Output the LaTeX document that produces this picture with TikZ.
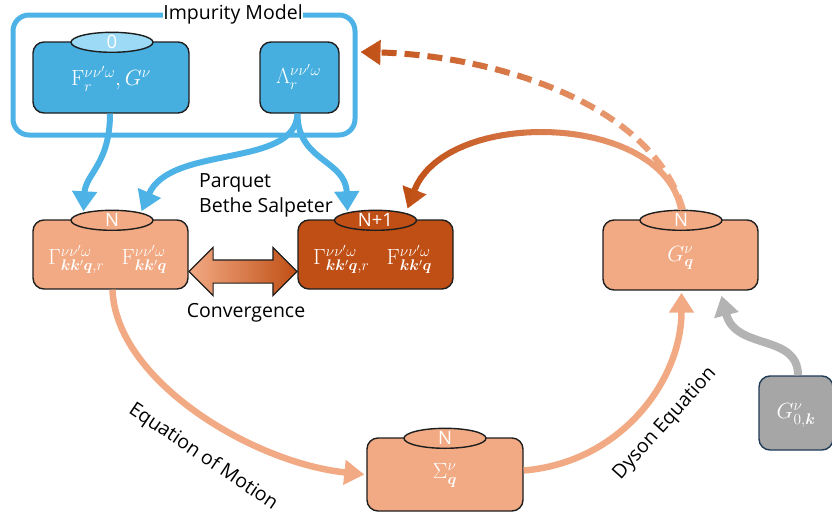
\RequirePackage{fix-cm}
\documentclass[tikz,border=0pt]{standalone}
\usepackage{amsmath}
\usepackage{bm}
\usepackage{fontspec}
\setsansfont{Open Sans}
\usetikzlibrary{arrows.meta,shapes.geometric,shapes.arrows,calc}

\definecolor{cBoxBlue}{HTML}{47AFE0}
\definecolor{cFrameBlue}{HTML}{4DB3E6}
\definecolor{cTagBlue}{HTML}{9CDAF5}
\definecolor{cSalmon}{HTML}{F2AA84}
\definecolor{cRust}{HTML}{C04F15}
\definecolor{cGreyBox}{HTML}{A6A6A6}
\definecolor{cGreyArrow}{HTML}{B3B3B3}
\definecolor{cEdge}{HTML}{1E1E1E}
\definecolor{cNavy}{HTML}{1F3A56}

\newcommand\mathsize{\fontsize{22}{26}\selectfont}
\newcommand\labelsize{\sffamily\fontsize{19.5}{24}\selectfont}

\begin{document}
\begin{tikzpicture}[x=1pt,y=-1pt,
  box/.style={draw=cEdge, line width=1.4pt, rounded corners=11pt, inner sep=0pt,
              text=white, font=\mathsize},
  tag/.style={ellipse, draw=cEdge, line width=1.4pt, minimum width=82pt,
              minimum height=20pt, inner sep=0pt, text=white,
              font=\sffamily\fontsize{18.5}{18.5}\selectfont},
  mathtext/.style={text=white, font=\mathsize, inner sep=0pt},
  caption/.style={text=black, font=\labelsize, inner sep=0pt},
  tip/.style={-{Triangle[length=20pt,width=24pt]}},
  bflow/.style={tip, draw=cFrameBlue, line width=6pt},
  sflow/.style={tip, draw=cSalmon, line width=6.5pt},
]
\useasboundingbox (0,0) rectangle (832,514);

% ---------- impurity model frame ----------
\node[draw=cFrameBlue, line width=5pt, rounded corners=16pt, minimum width=342pt,
      minimum height=120pt, inner sep=0pt] (imp) at (184,75) {};
\node[fill=white, inner xsep=7pt, inner ysep=2pt, caption] (imptitle) at (233,14) {Impurity Model};

% ---------- node boxes ----------
\node[box, fill=cBoxBlue, minimum width=156pt, minimum height=71pt] (fg) at (111,77.5) {};
\node[box, fill=cBoxBlue, minimum width=79pt, minimum height=71pt] (lam) at (299.5,77.5) {};
\node[box, fill=cSalmon, minimum width=155pt, minimum height=69pt] (gv) at (110.5,254.5) {};
\node[box, fill=cRust, minimum width=155pt, minimum height=69pt] (n1) at (375.5,254.5) {};
\node[box, fill=cSalmon, minimum width=155pt, minimum height=70pt] (gq) at (680.5,255) {};
\node[box, fill=cSalmon, minimum width=156pt, minimum height=73pt] (sq) at (445,474.5) {};
\node[box, draw=cNavy, fill=cGreyBox, minimum width=74pt, minimum height=74pt] (g0) at (796,413) {};

% ---------- blue arrows out of the impurity model ----------
\draw[bflow] ($(fg.south)+(-1,0)$) .. controls ($(fg.south)+(-1,50)$) and ($(gv.north)+(-25,-45)$)
  .. ($(gv.north)+(-27,-8)$);
\draw[bflow] ($(lam.south)+(-2,0)$) .. controls ($(lam.south)+(-4,55)$) and ($(gv.north)+(60,-75)$)
  .. ($(gv.north)+(31,-8)$);
\draw[bflow] ($(lam.south)+(-2,0)$) .. controls ($(lam.south)+(-2,48)$) and ($(n1.north)+(-30,-60)$)
  .. ($(n1.north)+(-28,-8)$);

% ---------- tags on top of the boxes ----------
\node[tag, fill=cTagBlue] (e0) at ($(fg.north)+(1,1)$) {0};
\node[tag, fill=cSalmon] (eN) at ($(gv.north)+(1.5,1)$) {N};
\node[tag, fill=cRust] (eN1) at ($(n1.north)+(0,1)$) {N+1};
\node[tag, fill=cSalmon] (eG) at ($(gq.north)+(0.5,1)$) {N};
\node[tag, fill=cSalmon] (eS) at ($(sq.north)+(0,1)$) {N};

% ---------- box contents ----------
\node[mathtext] (tfg) at ($(fg.center)+(0,1)$) {$\mathrm{F}_r^{\nu\nu'\omega}, G^{\nu}$};
\node[mathtext] (tlam) at ($(lam.center)+(-1,-1)$) {$\Lambda_r^{\nu\nu'\omega}$};
\node[mathtext] (tgam) at ($(gv.west)+(44,5)$) {$\Gamma^{\nu\nu'\omega}_{\bm{k}\bm{k}'\bm{q},r}$};
\node[mathtext] (tfv) at ($(gv.west)+(112,5)$) {$\mathrm{F}^{\nu\nu'\omega}_{\bm{k}\bm{k}'\bm{q}}$};
\node[mathtext] (tgam1) at ($(n1.west)+(44,5)$) {$\Gamma^{\nu\nu'\omega}_{\bm{k}\bm{k}'\bm{q},r}$};
\node[mathtext] (tfv1) at ($(n1.west)+(112,5)$) {$\mathrm{F}^{\nu\nu'\omega}_{\bm{k}\bm{k}'\bm{q}}$};
\node[mathtext] (tgq) at ($(gq.center)+(0,3)$) {$G^{\nu}_{\bm{q}}$};
\node[mathtext] (tsq) at ($(sq.center)+(0,1)$) {$\Sigma^{\nu}_{\bm{q}}$};
\node[mathtext] (tg0) at ($(g0.center)+(0,2)$) {$G^{\nu}_{0,\bm{k}}$};

% ---------- convergence double arrow ----------
\node[double arrow, draw=cEdge, line width=1.2pt, left color=cSalmon, right color=cRust,
      minimum height=108pt, minimum width=47pt, inner xsep=0pt, inner ysep=11pt,
      double arrow head extend=12.5pt] (conv)
  at ($(gv.east)!0.5!(n1.west)+(0,17)$) {};
\node[caption] (convlabel) at ($(conv.center)+(3,41)$) {Convergence};

\node[caption, align=left, anchor=west] (parquet) at (199,195)
  {Parquet\\[1pt]Bethe Salpeter};

% ---------- self-consistency loop ----------
\draw[sflow] ($(gv.south)+(2,0)$) .. controls ($(gv.south)+(5,90)$) and ($(sq.west)+(-115,-12)$)
  .. ($(sq.west)+(-2,0)$);
\node[caption, rotate=-34] (eom) at (203,457) {Equation of Motion};

\draw[sflow] ($(sq.east)+(0,-4)$) .. controls ($(sq.east)+(97,-12)$) and ($(gq.south)+(1,90)$)
  .. ($(gq.south)+(1,2)$);
\node[caption, rotate=48] (dyson) at (665,424) {Dyson Equation};

\draw[tip, draw=cGreyArrow, line width=8pt] ($(g0.north)+(2,0)$) .. controls ($(g0.north)+(2,-42)$)
  and ($(gq.south)+(55,60)$) .. ($(gq.south)+(41,5)$);

% ---------- feedback arrows with colour running from salmon to rust ----------
\foreach \i in {0,...,40} {
  \pgfmathsetmacro\xa{396+\i*7.5}
  \pgfmathsetmacro\pc{max(0,min(100,(\xa+3.75-407)/(681-407)*100))}
  \begin{scope}
    \clip (\xa-0.4,100) rectangle (\xa+7.9,240);
    \draw[tip, draw={cSalmon!\pc!cRust}, line width=6pt]
      ($(eG.north)+(0,0)$) .. controls ($(eG.north)+(-18,-98)$) and ($(eN1.north)+(70,-102)$)
      .. ($(eN1.north)+(32,-1)$);
  \end{scope}
}
\foreach \i in {0,...,44} {
  \pgfmathsetmacro\xa{345+\i*8}
  \pgfmathsetmacro\pc{max(0,min(100,(\xa+4-360)/(683-360)*100))}
  \begin{scope}
    \clip (\xa-0.4,20) rectangle (\xa+8.4,240);
    \draw[tip, draw={cSalmon!\pc!cRust}, line width=6pt, dash pattern=on 15pt off 8pt]
      ($(eG.north)+(2,0)$) .. controls ($(eG.north)+(-31,-112)$) and ($(imp.east)+(125,-20)$)
      .. ($(imp.east)+(3,-23)$);
  \end{scope}
}
\end{tikzpicture}
\end{document}
